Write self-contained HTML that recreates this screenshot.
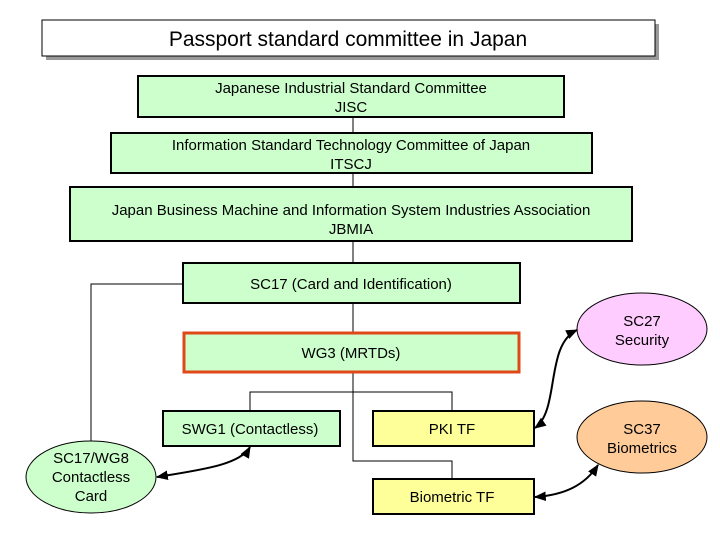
<!DOCTYPE html>
<html><head><style>
body{margin:0;background:#fff;}
svg text{font-family:"Liberation Sans",Arial,sans-serif;font-size:15px;fill:#000;text-anchor:middle;}
</style></head><body>
<svg width="720" height="540" viewBox="0 0 720 540" xmlns="http://www.w3.org/2000/svg">
<defs>
<marker id="a" viewBox="0 0 10 10" refX="9" refY="5" markerWidth="6" markerHeight="6" orient="auto-start-reverse"><path d="M0,1 L10,5 L0,9 z" fill="#000"/></marker>
</defs>
<!-- title -->
<rect x="46" y="24" width="613" height="36" fill="#999"/>
<rect x="42" y="20" width="613" height="36" fill="#fff" stroke="#000" stroke-width="1"/>
<text x="348" y="46" style="font-size:21px">Passport standard committee in Japan</text>
<!-- lines -->
<g stroke="#000" stroke-width="1" fill="none">
<line x1="353" y1="117" x2="353" y2="133"/>
<line x1="353" y1="173" x2="353" y2="187"/>
<line x1="353" y1="241" x2="353" y2="263"/>
<line x1="353" y1="303" x2="353" y2="332"/>
<polyline points="353,372 353,461 452,461 452,479"/>
<polyline points="250,411 250,392 452,392 452,411"/>
<polyline points="183,284 91,284 91,441"/>
</g>
<!-- boxes -->
<g stroke="#000" stroke-width="2">
<rect x="138" y="76" width="426" height="41" fill="#ccffcc"/>
<rect x="111" y="133" width="481" height="40" fill="#ccffcc"/>
<rect x="70" y="187" width="562" height="54" fill="#ccffcc"/>
<rect x="183" y="263" width="337" height="40" fill="#ccffcc"/>
<rect x="184" y="333" width="335" height="39" fill="#ccffcc" stroke="#e04818" stroke-width="3"/>
<rect x="163" y="411" width="177" height="35" fill="#ccffcc"/>
<rect x="373" y="411" width="161" height="35" fill="#ffff99"/>
<rect x="373" y="479" width="161" height="35" fill="#ffff99"/>
</g>
<g stroke="#000" stroke-width="1">
<ellipse cx="642" cy="329" rx="65" ry="36" fill="#ffccff"/>
<ellipse cx="642" cy="437" rx="65" ry="36" fill="#ffcc99"/>
<ellipse cx="91" cy="477" rx="65" ry="36" fill="#ccffcc"/>
</g>
<!-- curved arrows -->
<g stroke="#000" stroke-width="2" fill="none" marker-start="url(#a)" marker-end="url(#a)">
<path d="M535,428 C560,410 545,345 577,330"/>
<path d="M535,497 C565,495 585,485 598,465"/>
<path d="M157,477 C200,470 240,465 250,447"/>
</g>
<text x="351" y="93">Japanese Industrial Standard Committee</text>
<text x="351" y="112">JISC</text>
<text x="351" y="150">Information Standard Technology Committee of Japan</text>
<text x="351" y="169">ITSCJ</text>
<text x="351" y="215">Japan Business Machine and Information System Industries Association</text>
<text x="351" y="234">JBMIA</text>
<text x="351" y="289">SC17 (Card and Identification)</text>
<text x="351" y="358">WG3 (MRTDs)</text>
<text x="250" y="434">SWG1 (Contactless)</text>
<text x="452" y="434">PKI TF</text>
<text x="452" y="502">Biometric TF</text>
<text x="642" y="326">SC27</text>
<text x="642" y="345">Security</text>
<text x="642" y="434">SC37</text>
<text x="642" y="453">Biometrics</text>
<text x="91" y="463">SC17/WG8</text>
<text x="91" y="482">Contactless</text>
<text x="91" y="501">Card</text>
</svg>
</body></html>
